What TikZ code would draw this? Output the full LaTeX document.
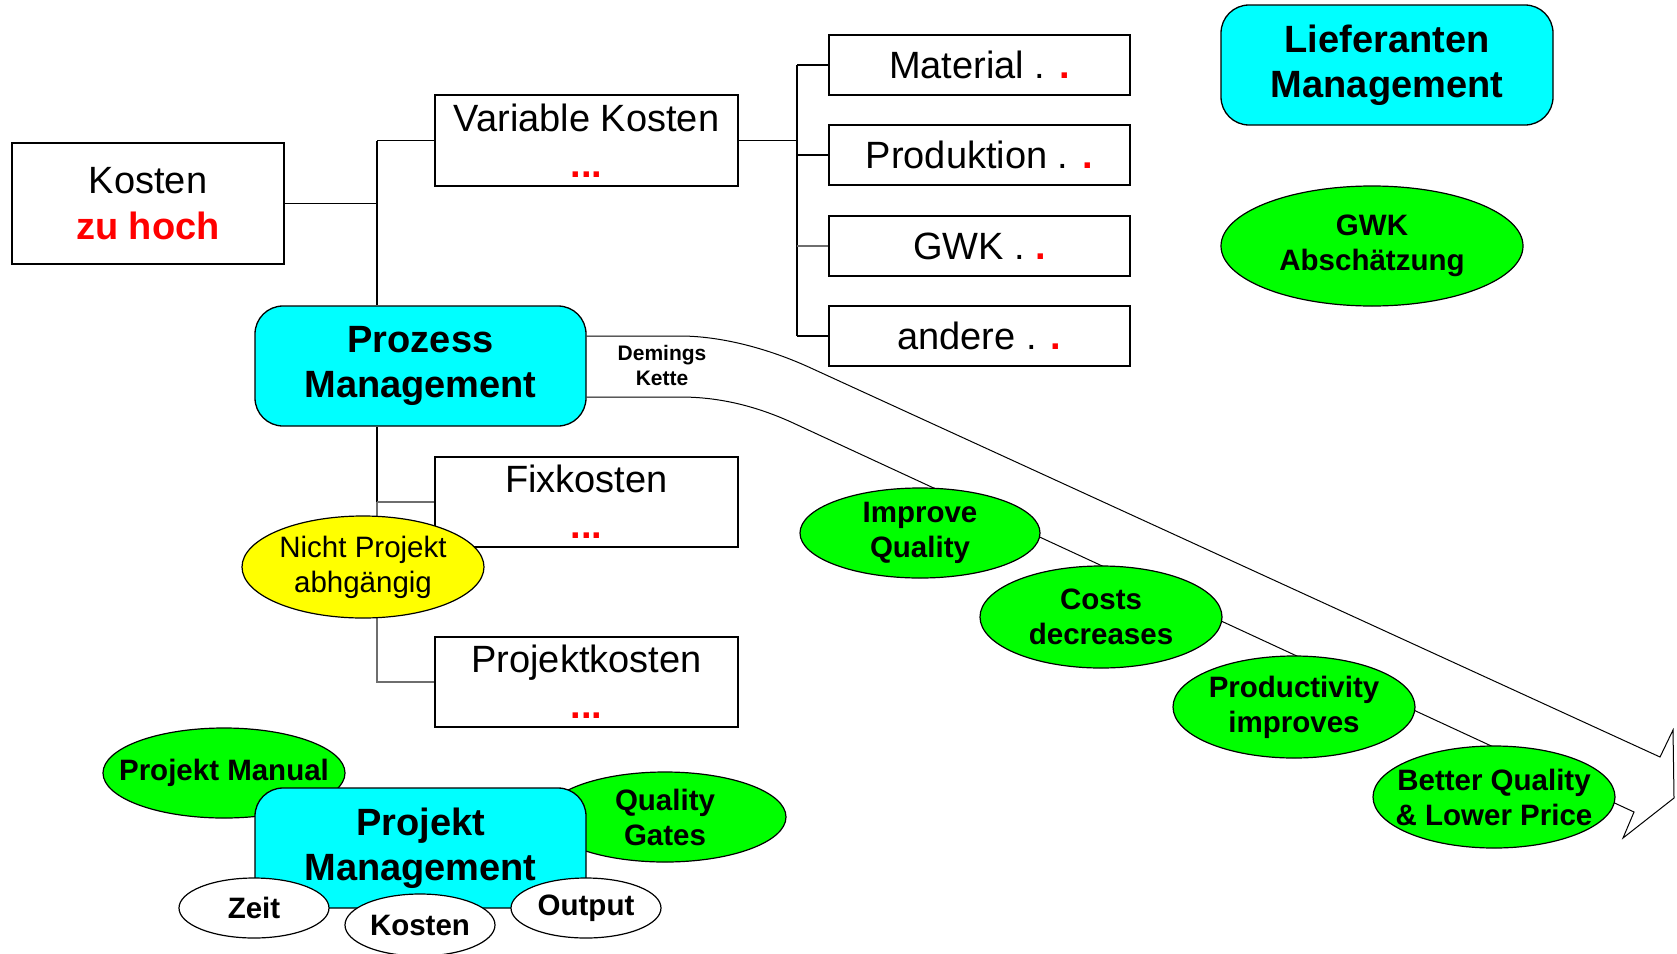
\documentclass[tikz,border=0pt]{standalone}
\usepackage{fontspec}
\setmainfont{Liberation Sans}
\usetikzlibrary{shapes.geometric}
\definecolor{cy}{RGB}{0,255,255}
\definecolor{gr}{RGB}{0,255,0}
\definecolor{ye}{RGB}{255,255,0}
\definecolor{rd}{RGB}{255,0,0}
\definecolor{ln}{RGB}{110,110,110}
\newcommand{\rdots}{{\color{rd}\bfseries ...}}
\newcommand{\rdot}{{\color{rd}\bfseries .}}
\newcommand{\myell}[8][]{%
  \node[ellbox, fill=#7, minimum width=#5pt, minimum height=#6pt] (#2) at (#3,#4) {};
  \node[elltext,#1] (#2-t) at (#2) {#8};}
\begin{document}
\begin{tikzpicture}[x=1pt,y=-1pt,
  box/.style={draw, line width=1.3pt, fill=white, inner sep=0pt, align=center,
    font=\fontsize{38}{46}\selectfont},
  rbox/.style={draw, line width=1.3pt, fill=cy, rounded corners=28pt, inner sep=0pt,
    minimum width=331pt, minimum height=120pt, align=center,
    font=\bfseries\fontsize{38}{45}\selectfont},
  ellbox/.style={draw, ellipse, line width=1.2pt, inner sep=0pt},
  elltext/.style={align=center, inner sep=0pt, font=\bfseries\fontsize{29.5}{35}\selectfont},
  plaintext/.style={font=\fontsize{29.5}{35}\selectfont},
  tree/.style={line width=1.3pt},
  gtree/.style={line width=1.3pt, draw=ln}
]
\useasboundingbox (0,0) rectangle (1677,953);
\fill[white] (0,0) rectangle (1677,953);

% junction coordinates
\coordinate (j1) at (377,0);
\coordinate (j2) at (797,0);

% boxes
\node[box, minimum width=272pt, minimum height=121pt] (ko) at (148,203.5) {Kosten\\{\color{rd}\bfseries zu hoch}};
\node[box, minimum width=303pt, minimum height=91pt] (vk) at (586.5,140.5) {Variable Kosten\\\rdots};
\node[box, minimum width=303pt, minimum height=90pt] (fx) at (586.5,502) {Fixkosten\\\rdots};
\node[box, minimum width=303pt, minimum height=90pt] (pk) at (586.5,682) {Projektkosten\\\rdots};
\node[box, minimum width=301pt, minimum height=60pt] (ma) at (979.5,65) {Material . \rdot};
\node[box, minimum width=301pt, minimum height=60pt] (pr) at (979.5,155) {Produktion . \rdot};
\node[box, minimum width=301pt, minimum height=60pt] (gw) at (979.5,246) {GWK . \rdot};
\node[box, minimum width=301pt, minimum height=60pt] (an) at (979.5,336) {andere . \rdot};

\node[rbox] (pm) at (420.5,366) {Prozess\\Management};
\node[rbox, minimum width=332pt] (lm) at (1387,65) {Lieferanten\\Management};

% tree connectors
\draw[tree] (ko.east) -- (ko.east -| j1);
\draw[tree] (vk.west -| j1) -- (pm.north -| j1);
\draw[tree] (vk.west -| j1) -- (vk.west);
\draw[tree] (pm.south -| j1) -- (fx.west -| j1);
\draw[gtree] (fx.west -| j1) -- (fx.west);
\draw[gtree] (fx.west -| j1) -- (pk.west -| j1) -- (pk.west);
\draw[tree] (vk.east) -- (vk.east -| j2);
\draw[tree] (ma.west -| j2) -- (an.west -| j2);
\draw[tree] (ma.west -| j2) -- (ma.west);
\draw[tree] (pr.west -| j2) -- (pr.west);
\draw[gtree] (gw.west -| j2) -- (gw.west);
\draw[tree] (an.west -| j2) -- (an.west);

% Deming chain arrow
\draw[line width=1pt, line join=miter]
  (pm.east |- 0,336) -- (680,336) .. controls (720,336) and (768,348) .. (813,369)
  -- (1660,757) -- (1673,730) -- (1674,798) -- (1623,838) -- (1634,812)
  -- (791,422) .. controls (751,404) and (715,397) .. (680,397) -- (pm.east |- 0,397);
\node[align=center, inner sep=0pt, font=\bfseries\fontsize{21}{25}\selectfont] (dk) at (662,365) {Demings\\Kette};

% ellipses
\myell[plaintext]{np}{363}{567}{242}{102}{ye}{Nicht Projekt\\abhgängig}
\myell{gk}{1372}{246}{302}{120}{gr}{GWK\\Abschätzung}
\myell{iq}{920}{533}{240}{90}{gr}{Improve\\Quality}
\myell{cd}{1101}{617}{242}{102}{gr}{Costs\\decreases}
\myell{pi}{1294}{707}{242}{102}{gr}{Productivity\\improves}
\myell{bq}{1494}{797}{242}{102}{gr}{Better Quality\\\& Lower Price}

% project management cluster
\myell{pmn}{224}{773}{242}{90}{gr}{Projekt Manual}
\myell{qg}{665}{817}{242}{90}{gr}{Quality\\Gates}
\node[rbox] (prm) at (420.5,848) {Projekt\\Management};
\myell{ze}{254}{908}{150}{60}{white}{Zeit}
\myell{kk}{420}{925}{150}{62}{white}{Kosten}
\myell{ou}{586}{908}{150}{60}{white}{Output}
\end{tikzpicture}
\end{document}
